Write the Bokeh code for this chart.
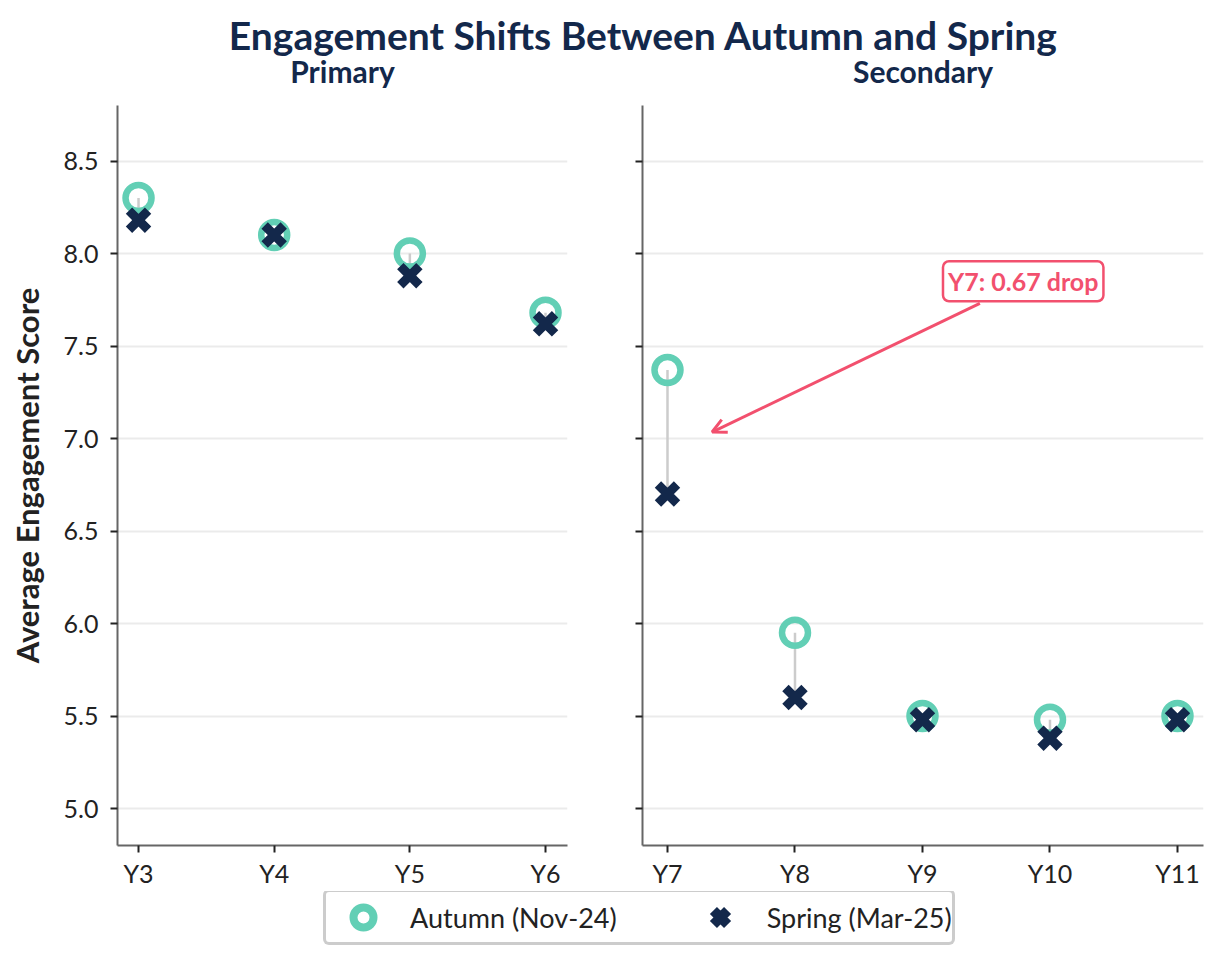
from bokeh.plotting import figure
from bokeh.models import (Range1d, FixedTicker, Label, Arrow, OpenHead, Legend, LegendItem,
                          ColumnDataSource, NumeralTickFormatter, CustomJSTickFormatter)
from bokeh.layouts import column, row
from bokeh.embed import file_html
from bokeh.resources import INLINE

# ---------------- data ----------------
title_text = "Engagement Shifts Between Autumn and Spring"
panel_titles = ["Primary", "Secondary"]
y_label = "Average Engagement Score"
series_names = ["Autumn (Nov-24)", "Spring (Mar-25)"]

primary_years = ["Y3", "Y4", "Y5", "Y6"]
primary_autumn = [8.30, 8.10, 8.00, 7.68]
primary_spring = [8.18, 8.10, 7.88, 7.62]

secondary_years = ["Y7", "Y8", "Y9", "Y10", "Y11"]
secondary_autumn = [7.37, 5.95, 5.50, 5.48, 5.50]
secondary_spring = [6.70, 5.60, 5.48, 5.38, 5.48]

y_ticks = [5.0, 5.5, 6.0, 6.5, 7.0, 7.5, 8.0, 8.5]

# ---------------- style ----------------
NAVY = "#13284b"
TEAL = "#62cfb5"
PINK = "#f2506e"
DARK = "#222222"
FONT = "Lato"

y_range = Range1d(4.8, 8.8)

P1_W, P1_L, P1_R = 600, 117, 33
P2_W, P2_L, P2_R = 608, 42, 5
TOP_H = 95


def make_panel(years, autumn, spring, x_range, width, mbl, mbr, show_labels):
    idx = list(range(len(years)))
    src = ColumnDataSource(dict(x=idx, a=autumn, s=spring))
    p = figure(width=width, height=796, x_range=x_range, y_range=y_range,
               output_backend="svg", toolbar_location=None,
               min_border_left=mbl, min_border_right=mbr,
               min_border_top=10, min_border_bottom=46)

    p.segment(x0="x", y0="a", x1="x", y1="s", source=src,
              line_color="#cccccc", line_width=2.5)
    p.scatter("x", "a", source=src, marker="circle", size=26,
              fill_color=None, line_color=TEAL, line_width=6.5)
    p.scatter("x", "s", source=src, marker="x", size=27,
              line_color=NAVY, line_width=9)

    p.xaxis.ticker = FixedTicker(ticks=idx)
    p.xaxis.major_label_overrides = {i: y for i, y in enumerate(years)}
    p.yaxis.ticker = FixedTicker(ticks=y_ticks)
    if show_labels:
        p.yaxis.formatter = NumeralTickFormatter(format="0.0")
    else:
        p.yaxis.formatter = CustomJSTickFormatter(code="return ''")

    for ax in p.axis:
        ax.axis_line_color = "#666666"
        ax.axis_line_width = 2
        ax.major_tick_line_color = DARK
        ax.major_tick_line_width = 2
        ax.major_tick_out = 7
        ax.major_tick_in = 0
        ax.minor_tick_line_color = None
        ax.major_label_text_font = FONT
        ax.major_label_text_font_size = "25px"
        ax.major_label_text_color = DARK
    p.xaxis.major_label_standoff = 5
    p.yaxis.major_label_standoff = 12

    p.xgrid.visible = False
    p.ygrid.grid_line_color = "#ebebeb"
    p.ygrid.grid_line_width = 2
    p.outline_line_color = None
    p.background_fill_color = "white"
    return p


p1 = make_panel(primary_years, primary_autumn, primary_spring,
                Range1d(-0.155, 3.162), P1_W, P1_L, P1_R, True)
p1.yaxis.axis_label = y_label
p1.yaxis.axis_label_text_font = FONT
p1.yaxis.axis_label_text_font_size = "31px"
p1.yaxis.axis_label_text_font_style = "bold"
p1.yaxis.axis_label_text_color = DARK
p1.yaxis.axis_label_standoff = 15

p2 = make_panel(secondary_years, secondary_autumn, secondary_spring,
                Range1d(-0.196, 4.204), P2_W, P2_L, P2_R, False)

# annotation for the largest drop (Y7)
drop = secondary_autumn[0] - secondary_spring[0]
mid = (secondary_autumn[0] + secondary_spring[0]) / 2
p2.add_layout(Arrow(end=OpenHead(size=14, line_color=PINK, line_width=3),
                    x_start=2.45, y_start=7.73, x_end=0.35, y_end=mid,
                    line_color=PINK, line_width=3))
p2.add_layout(Label(x=2.79, y=7.85, text=f"{secondary_years[0]}: {drop:.2f} drop",
                    text_align="center", text_baseline="middle",
                    text_font=FONT, text_font_style="bold", text_font_size="25px",
                    text_color=PINK, background_fill_color="white",
                    border_line_color=PINK, border_line_width=2.5,
                    padding=5, border_radius=6))

# overall title and panel titles
tf = figure(width=P1_W + P2_W, height=TOP_H, x_range=Range1d(0, 1), y_range=Range1d(0, 1),
            output_backend="svg", toolbar_location=None, min_border=0,
            x_axis_type=None, y_axis_type=None, outline_line_color=None)
tf.grid.visible = False
tf.add_layout(Label(x=643, y=60.5, x_units="screen", y_units="screen", text=title_text,
                    text_align="center", text_baseline="middle", text_font=FONT,
                    text_font_size="39px", text_font_style="bold", text_color=NAVY))
p1_frame_w = P1_W - P1_L - P1_R
p2_frame_w = P2_W - P2_L - P2_R
for name, cx in [(panel_titles[0], P1_L + p1_frame_w / 2),
                 (panel_titles[1], P1_W + P2_L + p2_frame_w / 2)]:
    tf.add_layout(Label(x=cx, y=24.5, x_units="screen", y_units="screen", text=name,
                        text_align="center", text_baseline="middle", text_font=FONT,
                        text_font_size="30px", text_font_style="bold", text_color=NAVY))

# legend figure (legend swatches use hidden renderers that carry the series data)
lf = figure(width=P1_W + P2_W, height=70, x_range=Range1d(0, 1), y_range=Range1d(0, 1),
            output_backend="svg", toolbar_location=None, min_border=0,
            x_axis_type=None, y_axis_type=None, outline_line_color=None)
lf.grid.visible = False
ra = lf.scatter(x=list(range(len(primary_years))), y=primary_autumn, marker="circle",
                fill_color=None, line_color=TEAL, line_width=8, visible=False)
rs = lf.scatter(x=list(range(len(primary_years))), y=primary_spring, marker="x",
                line_color=NAVY, line_width=10, visible=False)
legend = Legend(items=[LegendItem(label=series_names[0], renderers=[ra]),
                       LegendItem(label=series_names[1], renderers=[rs])],
                orientation="horizontal", location=(323, 16),
                border_line_color="#9a9a9a", border_line_width=3,
                padding=0, spacing=66, glyph_width=74, glyph_height=50,
                label_standoff=10, label_text_font=FONT, label_text_font_size="27px",
                label_text_color=DARK, margin=0, background_fill_color="white")
if "border_radius" in Legend.properties():
    legend.border_radius = 6
lf.add_layout(legend)

layout = column(tf, row(p1, p2), lf)
open("out.html", "w").write(file_html(layout, INLINE))
